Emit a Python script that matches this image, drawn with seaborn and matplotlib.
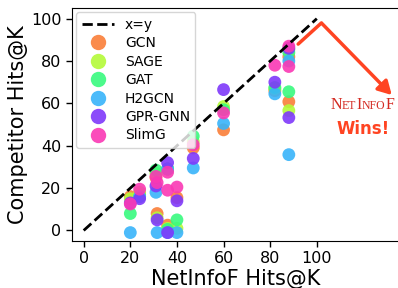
import numpy as np
import pandas as pd
import seaborn as sns
import matplotlib.pyplot as plt
from matplotlib.offsetbox import TextArea, HPacker, AnnotationBbox

# NetInfoF Hits@K (x) for each setting, and each competitor's Hits@K (y)
netinfof = [20, 24, 31, 31.5, 36, 36, 40, 47, 60, 82, 88, 88]
gcn = [16, 17, 25, 8, 29, 2.5, 15.5, 39, 47.5, 66, 82, 60.8]
sage = [15, 18, 27, 6, 29, 1, 1, 42, 58.5, 67, 85.5, 56.6]
gat = [8, 16, 28.5, np.nan, 29, 0.5, 5, 44.5, 57, 67.5, 84, 65.5]
h2gcn = [-1, 16, 18, -1, 29, -1, -1, 29.5, 50.5, 64.5, 80, 35.8]
gprgnn = [13, 15, 21, 5, 32, -1, 14, 34, 66.5, 70, 86, 53.3]
slimg = [12.5, 19.5, 25.5, 22.6, 27.5, 19, 20.5, 40.5, 55.5, 78, 87, 77.4]

methods = ['GCN', 'SAGE', 'GAT', 'H2GCN', 'GPR-GNN', 'SlimG']
values = [gcn, sage, gat, h2gcn, gprgnn, slimg]

rows = []
for m, vals in zip(methods, values):
    for x, y in zip(netinfof, vals):
        rows.append({'NetInfoF': x, 'Competitor': y, 'Method': m})
df = pd.DataFrame(rows).dropna()

sns.set_style('white')
plt.rcParams['font.family'] = ['DejaVu Sans']
plt.rcParams['text.color'] = 'black'
plt.rcParams['axes.labelcolor'] = 'black'
plt.rcParams['xtick.color'] = 'black'
plt.rcParams['ytick.color'] = 'black'

fig = plt.figure(figsize=(3.98, 2.88), dpi=100)
ax = fig.add_axes([0.181, 0.163, 0.82, 0.809])

palette = sns.hls_palette(6, h=0.06, l=0.6, s=0.95)

ax.plot([0, 100], [0, 100], 'k--', lw=2, label='x=y')
sns.scatterplot(data=df, x='NetInfoF', y='Competitor', hue='Method',
                hue_order=methods, palette=palette, s=85, alpha=0.9,
                linewidth=0, ax=ax)

old = ax.get_legend()
handles = list(old.legend_handles)
labels = [t.get_text() for t in old.texts]
old.remove()
ax.legend(handles, labels, loc='upper left', fontsize=10,
          borderaxespad=0.3, handlelength=2.3, markerscale=1.2,
          labelspacing=0.32)

ax.set_xlim(-5, 135)
ax.set_ylim(-5, 105)
ax.set_xticks([0, 20, 40, 60, 80, 100])
ax.set_yticks([0, 20, 40, 60, 80, 100])
ax.tick_params(axis='both', labelsize=11.5, length=4, width=1, color='k',
               labelcolor='k', left=True, bottom=True)
ax.set_xlabel('NetInfoF Hits@K', fontsize=15, labelpad=2)
ax.set_ylabel('Competitor Hits@K', fontsize=15, labelpad=2)
for s in ['left', 'bottom', 'top']:
    ax.spines[s].set_color('k')
ax.spines['right'].set_visible(False)

# "NetInfoF Wins!" callout
arrow_c = '#ff4422'
ax.plot([92, 102], [88, 98], color=arrow_c, lw=2.5)
ax.annotate('', xy=(133, 63), xytext=(101.5, 98.5),
            arrowprops=dict(arrowstyle='-|>,head_length=0.8,head_width=0.45',
                            color=arrow_c, lw=2.5))

big, small = 11.5, 8.5
serif = 'Liberation Serif'
red = '#d42a22'
parts = [('N', big), ('ET', small), ('I', big), ('NFO', small), ('F', big)]
boxes = [TextArea(t, textprops=dict(size=sz, color=red, family=serif))
         for t, sz in parts]
pack = HPacker(children=boxes, align='baseline', pad=0, sep=0)
ab = AnnotationBbox(pack, (119.5, 59), frameon=False, box_alignment=(0.5, 0.5))
ax.add_artist(ab)
ax.text(120, 48, 'Wins!', color=arrow_c, fontsize=12, fontweight='bold',
        ha='center', va='center')

fig.savefig('out.png', dpi=100)
